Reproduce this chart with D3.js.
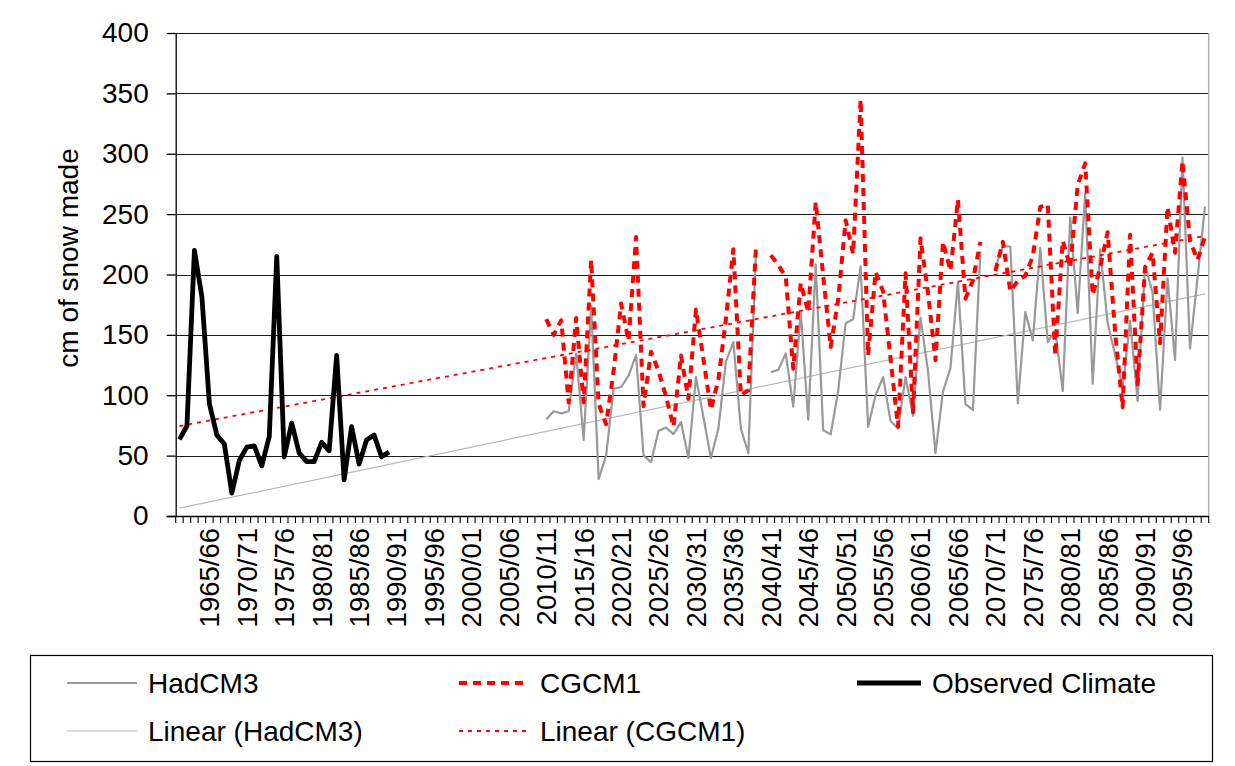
<!DOCTYPE html>
<html>
<head>
<meta charset="utf-8">
<script src="https://cdnjs.cloudflare.com/ajax/libs/d3/7.8.5/d3.min.js"></script>
<style>
  body { margin: 0; background: #fff; }
  text { font-family: "Liberation Sans", Arial, sans-serif; fill: #000; }
</style>
</head>
<body>
<script>
// DATA
// winter seasons 1961/62 .. 2098/99
var categories = d3.range(1961, 2099).map(function (y) {
    return y + "/" + String((y + 1) % 100).padStart(2, "0");
});

var tickLabels = ["1965/66", "1970/71", "1975/76", "1980/81", "1985/86", "1990/91",
    "1995/96", "2000/01", "2005/06", "2010/11", "2015/16", "2020/21", "2025/26",
    "2030/31", "2035/36", "2040/41", "2045/46", "2050/51", "2055/56", "2060/61",
    "2065/66", "2070/71", "2075/76", "2080/81", "2085/86", "2090/91", "2095/96"];

var yTicks = [0, 50, 100, 150, 200, 250, 300, 350, 400];

// observed climate, starts 1961/62
var observedStart = "1961/62";
var observed = [63.5, 74.5, 220, 181.5, 93, 67, 59.6, 19, 46, 57, 58, 41.5, 66, 215, 49,
    77, 52, 45, 45, 61, 54, 133, 30, 74, 43, 63, 67, 49, 53];

// model runs, start 2010/11
var modelStart = "2010/11";
var hadcm3 = [80, 86.8, 85, 86.8, 134.6, 63, 173.8, 30.5, 50, 105.4,
    106.8, 116.2, 133.3, 50, 44.6, 70.5, 73.2, 67.8, 77.8, 48,
    115, 82, 48, 72.4, 127.8, 144, 72.4, 52, 217, null,
    119, 121, 134.6, 90.5, 169, 79.7, 208.4, 71, 67.6, 103.5,
    159.7, 163, 206.8, 73.8, 100, 115, 78.6, 72.4, 115, 83,
    164.3, 120, 52, 103, 122.4, 194, 92.7, 87.8, 219, null,
    205.7, 223.8, 223, 93.2, 169, 145.4, 222, 144, 154, 103.5,
    247.3, 168, 267, 109.5, 220.8, 160, 133.3, 106.2, 161.6, 95.4,
    207.6, 185, 87.8, 196.8, 129.2, 296.8, 138.7, 196.8, 256.2];

var cgcm1 = [163, 150, 162, 94, 164, 94, 212, 93, 76, 120,
    176, 145, 231, 91, 136, 120, 99, 74, 133, 97,
    171, 130, 88, 113, 163, 221, 100, 104, 221, null,
    216, 208, 198, 122, 193, 169, 260, 199, 140, 179,
    245, 217, 345, 133, 202, 186, 130, 74, 201, 86,
    230, 185, 129, 227, 203, 262, 180, 195, 227, null,
    203, 227, 186, 195, 199, 215, 256, 258, 133, 228,
    206, 274, 292, 183, 206, 235, 152, 90, 233, 109,
    206, 218, 143, 256, 218, 294, 228, 212, 231];

// trendlines: value at first and last season
var hadTrend = [6.5, 184];
var cgcmTrend = [74.5, 232];

var legendItems = [
    { name: "HadCM3", key: "had", col: 0, row: 0 },
    { name: "CGCM1", key: "cgcm", col: 1, row: 0 },
    { name: "Observed Climate", key: "obs", col: 2, row: 0 },
    { name: "Linear (HadCM3)", key: "hadT", col: 0, row: 1 },
    { name: "Linear (CGCM1)", key: "cgcmT", col: 1, row: 1 }
];

// STYLES
var styles = {
    had: { stroke: "#999999", width: 2.2, dash: null },
    cgcm: { stroke: "#ff0000", width: 4, dash: "8,6" },
    obs: { stroke: "#000000", width: 4.8, dash: null },
    hadT: { stroke: "#b8b8b8", width: 1.2, dash: null },
    cgcmT: { stroke: "#ff0000", width: 1.8, dash: "4,5" }
};

var W = 1235, H = 766;
var plot = { left: 175.7, right: 1208.7, top: 33, bottom: 516 };

var svg = d3.select("body").append("svg")
    .attr("width", W)
    .attr("height", H);

var x = d3.scaleBand()
    .domain(categories)
    .range([plot.left, plot.right])
    .padding(0);

var xc = function (c) { return x(c) + x.bandwidth() / 2; };

var y = d3.scaleLinear()
    .domain([0, 400])
    .range([plot.bottom, plot.top]);

// GRIDLINES
svg.append("g")
    .selectAll("line")
    .data(yTicks)
    .enter()
    .append("line")
    .attr("x1", plot.left)
    .attr("x2", plot.right)
    .attr("y1", function (d) { return Math.round(y(d)) + 0.5; })
    .attr("y2", function (d) { return Math.round(y(d)) + 0.5; })
    .attr("stroke", "#1a1a1a")
    .attr("stroke-width", 1.1);

// plot area right border
svg.append("line")
    .attr("x1", plot.right).attr("x2", plot.right)
    .attr("y1", plot.top).attr("y2", plot.bottom)
    .attr("stroke", "#b0b0b0")
    .attr("stroke-width", 1.5);

// Y AXIS
var yAxis = d3.axisLeft(y)
    .tickValues(yTicks)
    .tickSizeInner(9)
    .tickSizeOuter(0)
    .tickPadding(18);

var yg = svg.append("g")
    .attr("transform", "translate(" + plot.left + ",0)")
    .call(yAxis);
yg.selectAll("text").style("font-size", "28px");
yg.selectAll("line, path").attr("stroke", "#000").attr("stroke-width", 1.3);

svg.append("text")
    .attr("transform", "translate(68,258) rotate(-90)")
    .attr("text-anchor", "middle")
    .attr("dy", "0.35em")
    .style("font-size", "28px")
    .text("cm of snow made");

// X AXIS
var xAxis = d3.axisBottom(x)
    .tickValues(tickLabels)
    .tickSize(0)
    .tickPadding(0);

var xg = svg.append("g")
    .attr("transform", "translate(0," + plot.bottom + ")")
    .call(xAxis);
xg.select(".domain").remove();
xg.selectAll("text")
    .style("font-size", "27.5px")
    .attr("text-anchor", "end")
    .attr("transform", "rotate(-90)")
    .attr("x", -12)
    .attr("y", 0)
    .attr("dy", "0.36em");

// tick marks between categories
var bounds = categories.map(function (c) { return x(c); }).concat([plot.right]);
svg.append("g")
    .selectAll("line")
    .data(bounds)
    .enter()
    .append("line")
    .attr("x1", function (d) { return d; })
    .attr("x2", function (d) { return d; })
    .attr("y1", plot.bottom)
    .attr("y2", plot.bottom + 7)
    .attr("stroke", "#000")
    .attr("stroke-width", 1.1);

svg.append("line")
    .attr("x1", plot.left - 9).attr("x2", plot.right)
    .attr("y1", plot.bottom + 0.5).attr("y2", plot.bottom + 0.5)
    .attr("stroke", "#000")
    .attr("stroke-width", 1.5);

// SERIES
function toPoints(values, start) {
    var i0 = categories.indexOf(start);
    return values.map(function (v, i) { return { c: categories[i0 + i], v: v }; });
}

var line = d3.line()
    .defined(function (d) { return d.v != null; })
    .x(function (d) { return xc(d.c); })
    .y(function (d) { return y(d.v); });

function drawLine(points, st) {
    svg.append("path")
        .datum(points)
        .attr("fill", "none")
        .attr("stroke", st.stroke)
        .attr("stroke-width", st.width)
        .attr("stroke-dasharray", st.dash)
        .attr("stroke-linejoin", "round")
        .attr("d", line);
}

var first = categories[0], last = categories[categories.length - 1];

drawLine([{ c: first, v: hadTrend[0] }, { c: last, v: hadTrend[1] }], styles.hadT);
drawLine(toPoints(hadcm3, modelStart), styles.had);
drawLine(toPoints(cgcm1, modelStart), styles.cgcm);
drawLine([{ c: first, v: cgcmTrend[0] }, { c: last, v: cgcmTrend[1] }], styles.cgcmT);
drawLine(toPoints(observed, observedStart), styles.obs);

// LEGEND
svg.append("rect")
    .attr("x", 30.5)
    .attr("y", 655.5)
    .attr("width", 1182)
    .attr("height", 106)
    .attr("fill", "none")
    .attr("stroke", "#000")
    .attr("stroke-width", 1.2);

var colX = [67, 459, 857];
var sampleW = [70, 70, 64];
var rowY = [683, 731];

var leg = svg.append("g")
    .selectAll("g")
    .data(legendItems)
    .enter()
    .append("g")
    .attr("transform", function (d) {
        return "translate(" + colX[d.col] + "," + rowY[d.row] + ")";
    });

leg.append("line")
    .attr("x1", 0)
    .attr("x2", function (d) { return sampleW[d.col]; })
    .attr("y1", 0)
    .attr("y2", 0)
    .attr("stroke", function (d) { return styles[d.key].stroke; })
    .attr("stroke-width", function (d) { return styles[d.key].width; })
    .attr("stroke-dasharray", function (d) { return styles[d.key].dash; });

leg.append("text")
    .attr("x", function (d) { return sampleW[d.col] + 11; })
    .attr("dy", "0.35em")
    .style("font-size", "28px")
    .text(function (d) { return d.name; });
</script>
</body>
</html>
